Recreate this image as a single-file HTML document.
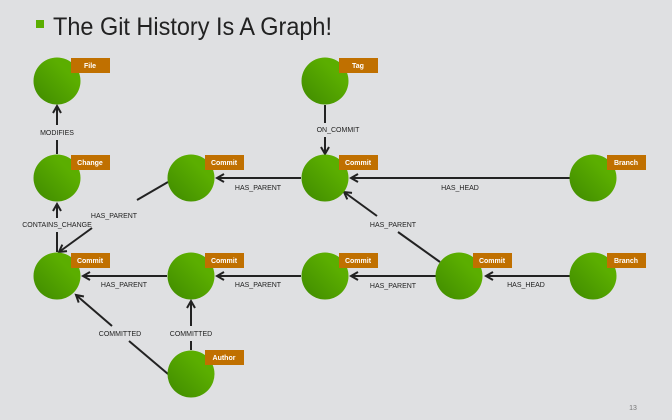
<!DOCTYPE html>
<html><head><style>
html,body{margin:0;padding:0;}
body{width:672px;height:420px;background:#dfe0e2;overflow:hidden;font-family:"Liberation Sans",sans-serif;}
</style></head><body>
<svg width="672" height="420" xmlns="http://www.w3.org/2000/svg" style="position:absolute;left:0;top:0">
<defs>
<linearGradient id="g" x1="1" y1="0" x2="0" y2="1">
<stop offset="0.3" stop-color="#5bae00"/><stop offset="1" stop-color="#3f8a00"/>
</linearGradient>
<marker id="a" markerWidth="10" markerHeight="10" refX="8" refY="5" orient="auto" markerUnits="userSpaceOnUse">
<path d="M1,1 L8,5 L1,9" fill="none" stroke="#222" stroke-width="2"/>
</marker>
</defs>
<rect x="36" y="20" width="8" height="8" fill="#5bae00"/>
<text x="53" y="35" font-size="25" fill="#222" textLength="279" lengthAdjust="spacingAndGlyphs">The Git History Is A Graph!</text>
<g stroke="#222" stroke-width="2" fill="none">
<line x1="57" y1="125" x2="57" y2="106" marker-end="url(#a)"/>
<line x1="57" y1="154" x2="57" y2="140"/>
<line x1="57" y1="218" x2="57" y2="204" marker-end="url(#a)"/>
<line x1="57" y1="252" x2="57" y2="232"/>
<line x1="168" y1="182" x2="137" y2="200"/>
<line x1="92" y1="228" x2="59" y2="252" marker-end="url(#a)"/>
<line x1="325" y1="105" x2="325" y2="123"/>
<line x1="325" y1="137" x2="325" y2="154" marker-end="url(#a)"/>
<line x1="301" y1="178" x2="217" y2="178" marker-end="url(#a)"/>
<line x1="570" y1="178" x2="351" y2="178" marker-end="url(#a)"/>
<line x1="440" y1="262" x2="398" y2="232"/>
<line x1="377" y1="216" x2="344" y2="192" marker-end="url(#a)"/>
<line x1="167" y1="276" x2="83" y2="276" marker-end="url(#a)"/>
<line x1="301" y1="276" x2="217" y2="276" marker-end="url(#a)"/>
<line x1="436" y1="276" x2="351" y2="276" marker-end="url(#a)"/>
<line x1="570" y1="276" x2="486" y2="276" marker-end="url(#a)"/>
<line x1="191" y1="350" x2="191" y2="341"/>
<line x1="191" y1="326" x2="191" y2="301" marker-end="url(#a)"/>
<line x1="168" y1="374" x2="129" y2="341"/>
<line x1="112" y1="326" x2="76" y2="295" marker-end="url(#a)"/>
</g>
<g font-size="7" fill="#222" text-anchor="middle">
<text x="57" y="135">MODIFIES</text>
<text x="57" y="227">CONTAINS_CHANGE</text>
<text x="114" y="218">HAS_PARENT</text>
<text x="338" y="132">ON_COMMIT</text>
<text x="258" y="190">HAS_PARENT</text>
<text x="460" y="190">HAS_HEAD</text>
<text x="393" y="227">HAS_PARENT</text>
<text x="124" y="287">HAS_PARENT</text>
<text x="258" y="287">HAS_PARENT</text>
<text x="393" y="288">HAS_PARENT</text>
<text x="526" y="287">HAS_HEAD</text>
<text x="120" y="336">COMMITTED</text>
<text x="191" y="336">COMMITTED</text>
<text x="633" y="410" fill="#777">13</text>
</g>
<g>
<circle cx="57" cy="81" r="23.5" fill="url(#g)"/>
<circle cx="325" cy="81" r="23.5" fill="url(#g)"/>
<circle cx="57" cy="178" r="23.5" fill="url(#g)"/>
<circle cx="191" cy="178" r="23.5" fill="url(#g)"/>
<circle cx="325" cy="178" r="23.5" fill="url(#g)"/>
<circle cx="593" cy="178" r="23.5" fill="url(#g)"/>
<circle cx="57" cy="276" r="23.5" fill="url(#g)"/>
<circle cx="191" cy="276" r="23.5" fill="url(#g)"/>
<circle cx="325" cy="276" r="23.5" fill="url(#g)"/>
<circle cx="459" cy="276" r="23.5" fill="url(#g)"/>
<circle cx="593" cy="276" r="23.5" fill="url(#g)"/>
<circle cx="191" cy="374" r="23.5" fill="url(#g)"/>
</g>
<g fill="#c07000">
<rect x="71" y="58" width="39" height="15"/>
<rect x="339" y="58" width="39" height="15"/>
<rect x="71" y="155" width="39" height="15"/>
<rect x="205" y="155" width="39" height="15"/>
<rect x="339" y="155" width="39" height="15"/>
<rect x="607" y="155" width="39" height="15"/>
<rect x="71" y="253" width="39" height="15"/>
<rect x="205" y="253" width="39" height="15"/>
<rect x="339" y="253" width="39" height="15"/>
<rect x="473" y="253" width="39" height="15"/>
<rect x="607" y="253" width="39" height="15"/>
<rect x="205" y="350" width="39" height="15"/>
</g>
<g font-size="7" fill="#fff" text-anchor="middle" font-weight="bold">
<text x="90" y="68">File</text>
<text x="358" y="68">Tag</text>
<text x="90" y="165">Change</text>
<text x="224" y="165">Commit</text>
<text x="358" y="165">Commit</text>
<text x="626" y="165">Branch</text>
<text x="90" y="263">Commit</text>
<text x="224" y="263">Commit</text>
<text x="358" y="263">Commit</text>
<text x="492" y="263">Commit</text>
<text x="626" y="263">Branch</text>
<text x="224" y="360">Author</text>
</g>
</svg>
</body></html>
